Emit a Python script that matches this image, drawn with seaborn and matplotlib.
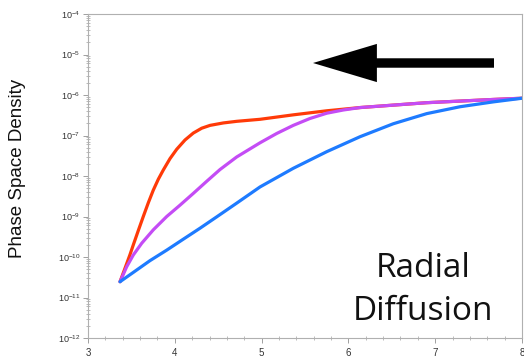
import numpy as np
import pandas as pd
import matplotlib
matplotlib.use("Agg")
import matplotlib.pyplot as plt
import seaborn as sns

# Data (x = L, y = log10 phase space density)
red_x = [3.369, 3.426, 3.484, 3.522, 3.579, 3.637, 3.695, 3.752, 3.810, 3.868, 3.945, 4.022,
         4.118, 4.213, 4.310, 4.406, 4.559, 4.713, 4.982, 5.365, 5.750, 6.134, 6.517, 6.902,
         7.286, 7.669, 8.0]
red_ly = [-10.61, -10.28, -9.94, -9.70, -9.35, -9.00, -8.66, -8.35, -8.08, -7.85, -7.57, -7.34,
          -7.11, -6.94, -6.82, -6.75, -6.69, -6.65, -6.60, -6.49, -6.39, -6.31, -6.25, -6.19,
          -6.15, -6.11, -6.08]

purple_x = [3.369, 3.446, 3.522, 3.619, 3.752, 3.907, 4.060, 4.213, 4.368, 4.521, 4.713, 4.982,
            5.174, 5.365, 5.557, 5.750, 5.942, 6.134, 6.517, 6.902, 7.286, 7.669, 8.0]
purple_ly = [-10.61, -10.24, -9.95, -9.66, -9.33, -9.00, -8.72, -8.43, -8.13, -7.84, -7.53, -7.18,
             -6.95, -6.75, -6.58, -6.45, -6.37, -6.31, -6.25, -6.19, -6.15, -6.11, -6.08]

blue_x = [3.369, 3.522, 3.714, 3.907, 4.098, 4.290, 4.482, 4.713, 4.982, 5.365, 5.750, 6.134,
          6.517, 6.902, 7.286, 7.669, 8.0]
blue_ly = [-10.61, -10.38, -10.09, -9.83, -9.56, -9.29, -9.01, -8.67, -8.27, -7.81, -7.40, -7.03,
           -6.71, -6.46, -6.29, -6.17, -6.08]

series_names = ["red", "purple", "blue"]
series_colors = ["#ff3a08", "#c44cf5", "#1e7bff"]

ylabel_text = "Phase Space Density"
annot_lines = ["Radial", "Diffusion"]

rows = []
for name, xs, lys in zip(series_names, [red_x, purple_x, blue_x], [red_ly, purple_ly, blue_ly]):
    for i, (xv, lv) in enumerate(zip(xs, lys)):
        rows.append({"series": name, "L": xv, "psd": 10.0 ** lv, "order": i})
df = pd.DataFrame(rows)

sns.set_style("ticks")
plt.rcParams["font.family"] = ["Liberation Sans", "DejaVu Sans"]

fig = plt.figure(figsize=(5.24, 3.57), dpi=100)
ax = fig.add_axes([88 / 524, (357 - 338) / 357, (522 - 88) / 524, (338 - 14) / 357])

sns.lineplot(data=df, x="L", y="psd", hue="series", hue_order=series_names,
             palette=series_colors, estimator=None, sort=False, units="series",
             linewidth=2.3, legend=False, ax=ax)
for line in ax.get_lines():
    line.set_solid_joinstyle("round")
    line.set_solid_capstyle("round")

ax.set_yscale("log")
ax.set_xlim(3, 8)
ax.set_ylim(1e-12, 1e-4)
ax.set_yticks([10.0 ** e for e in range(-12, -3)])
ax.xaxis.set_minor_locator(matplotlib.ticker.MultipleLocator(0.2))
ax.yaxis.set_minor_locator(matplotlib.ticker.LogLocator(base=10, subs=np.arange(2, 10), numticks=20))
ax.yaxis.set_minor_formatter(matplotlib.ticker.NullFormatter())

for s in ax.spines.values():
    s.set_color("#b0b0b0")
    s.set_linewidth(0.8)
    s.set_visible(True)

ax.tick_params(axis="both", which="major", direction="out", length=3.5, width=0.6,
               color="#909090", labelsize=6.5, labelcolor="#333333", pad=2)
ax.tick_params(axis="both", which="minor", direction="inout", length=2.5, width=0.5,
               color="#a0a0a0")
ax.tick_params(axis="x", which="major", labelsize=7, pad=4)

ax.set_xlabel("")
ax.set_ylabel(ylabel_text, fontsize=13.5, color="#111111")
ax.yaxis.set_label_coords(-0.143, 0.523)

# Arrow pointing left
ax.annotate("", xy=((313 - 88) / 434, (338 - 63) / 324), xycoords="axes fraction",
            xytext=((494 - 88) / 434, (338 - 63) / 324), textcoords="axes fraction",
            arrowprops=dict(arrowstyle="simple,head_length=46,head_width=27.5,tail_width=6.8",
                            mutation_scale=1, color="black", shrinkA=0, shrinkB=0, lw=0))

ax.text(0.772, (338 - 277) / 324, annot_lines[0], transform=ax.transAxes,
        ha="center", va="baseline", fontsize=24, family=["Open Sans", "DejaVu Sans"], color="#111111")
ax.text(0.772, (338 - 320) / 324, annot_lines[1], transform=ax.transAxes,
        ha="center", va="baseline", fontsize=24, family=["Open Sans", "DejaVu Sans"], color="#111111")

fig.savefig("out.png", dpi=100)
